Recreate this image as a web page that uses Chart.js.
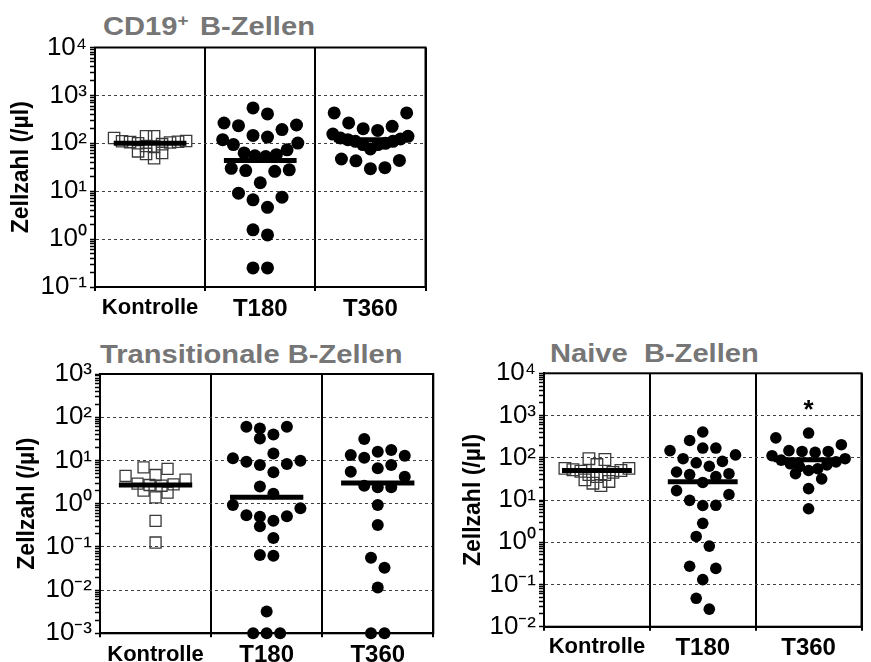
<!DOCTYPE html>
<html>
<head>
<meta charset="utf-8">
<script src="https://cdn.jsdelivr.net/npm/chart.js@4.4.1/dist/chart.umd.min.js"></script>
<style>
  html, body { margin: 0; padding: 0; background: #fff; }
  body { width: 871px; height: 662px; position: relative; overflow: hidden;
         font-family: "Liberation Sans", Arial, sans-serif; }
  canvas { position: absolute; }
  .ttl { position: absolute; font-weight: bold; font-size: 26px; line-height: 26px;
         color: #767676; white-space: pre; transform: scaleX(1.12); transform-origin: 0 0; }
  .ttl sup { font-size: 17px; line-height: 0; vertical-align: 9px; margin-right: 3px; }
</style>
</head>
<body>
<div class="ttl" style="left:103px; top:13px">CD19<sup>+</sup> B-Zellen</div>
<div class="ttl" style="left:100px; top:341px">Transitionale B-Zellen</div>
<div class="ttl" style="left:550px; top:340px">Naive  B-Zellen</div>

<canvas id="cd19" width="440" height="322" style="left:0; top:0"></canvas>
<canvas id="trans" width="445" height="332" style="left:0; top:330px"></canvas>
<canvas id="naive" width="421" height="332" style="left:450px; top:330px"></canvas>

<script>
// Groups on the x axis
const groups = ['Kontrolle', 'T180', 'T360'];
const yTitle = 'Zellzahl (/µl)';

// CD19+ B cells (cells per µl)
const cd19Kontrolle = [140, 140, 129, 112, 110, 108, 106, 104, 100, 96, 88, 86, 68, 63, 60, 49];
const cd19T180 = [547, 410, 265, 241, 233, 193, 146, 135, 119, 101, 94, 73, 63, 58, 55, 53,
                  30, 28, 27, 26, 15, 9.1, 7.5, 6.6, 4.6, 1.56, 1.22, 0.25, 0.25];
const cd19T360 = [431, 431, 266, 226, 202, 186, 156, 140, 129, 123, 119, 110, 110, 100, 94, 94,
                  76, 47, 44, 43, 31, 29.5];
const cd19Median = [100, 44, 119];
const cd19Decades = [-1, 0, 1, 2, 3, 4];

// Transitional B cells
const transKontrolle = [6.9, 6.4, 4.6, 4.4, 3.6, 2.9, 2.8, 2.7, 2.6, 2.0, 1.8, 1.4, 0.40, 0.126];
const transT180 = [60, 60, 55, 40, 32, 14.5, 11.3, 9.8, 9.3, 8.3, 7.8, 5.3, 2.5, 1.7, 0.93, 0.78,
                   0.54, 0.51, 0.50, 0.40, 0.30, 0.16, 0.065, 0.062, 0.0032, 0.001, 0.001, 0.001];
const transT360 = [31.5, 17.4, 15.8, 13.4, 12.8, 11.5, 7.8, 6.6, 5.5, 4.2, 2.6, 2.4, 2.4, 0.93,
                   0.32, 0.056, 0.033, 0.0115, 0.001, 0.001];
const transMedian = [2.7, 1.4, 3.0];
const transDecades = [-3, -2, -1, 0, 1, 2, 3];

// Naive B cells
const naiveKontrolle = [95, 91, 69, 56, 56, 52, 50, 48, 45, 40, 40, 36, 30, 27.5, 25, 22];
const naiveT180 = [407, 257, 170, 170, 148, 117, 95, 82, 76, 63, 46, 42, 40, 36, 26, 16.7, 13.5,
                   9.8, 7.5, 7.4, 2.8, 1.37, 0.81, 0.27, 0.24, 0.13, 0.047, 0.026];
const naiveT360 = [385, 295, 204, 148, 141, 141, 134, 112, 95, 88, 80, 72, 68, 62, 55, 50, 42,
                   31.6, 18.6, 6.2];
const naiveMedian = [50, 27, 90];
const naiveDecades = [-2, -1, 0, 1, 2, 3, 4];
const naiveMarks = ['', '', '*'];

// ---------------------------------------------------------------------------
const FONT = '"Liberation Sans", Arial, sans-serif';
const SUP = { '0': '⁰', '1': '¹', '2': '²', '3': '³', '4': '⁴', '5': '⁵', '6': '⁶',
              '7': '⁷', '8': '⁸', '9': '⁹', '-': '⁻' };
const powerLabel = e => '10' + String(e).split('').map(c => SUP[c]).join('');
const isDecade = v => Math.abs(Math.log10(v) - Math.round(Math.log10(v))) < 1e-9;

// Prism-style column scatter: values are grouped into horizontal rows,
// the lowest value of a row sits in the middle, the others alternate right/left.
function swarm(values, xs, ys, center, spacing, rowHeight, maxWidth) {
  const unit = xs.getPixelForValue(1) - xs.getPixelForValue(0);
  const pts = values.map(v => ({ v, py: ys.getPixelForValue(v) }))
                    .sort((a, b) => b.py - a.py);
  const rows = [];
  let row = null;
  for (const p of pts) {
    if (!row || row.start - p.py > rowHeight) { row = { start: p.py, items: [] }; rows.push(row); }
    row.items.push(p);
  }
  const out = [];
  for (const r of rows) {
    const n = r.items.length;
    const step = n > 1 ? Math.min(spacing, maxWidth / (n - 1)) : spacing;
    r.items.forEach((p, k) => {
      let slot;
      if (n % 2 === 1) slot = k === 0 ? 0 : (k % 2 === 1 ? 1 : -1) * Math.ceil(k / 2);
      else slot = (k % 2 === 0 ? 1 : -1) * (Math.floor(k / 2) + 0.5);
      out.push({ x: center + slot * step / unit, y: p.v });
    });
  }
  return out;
}

const framePlugin = {
  id: 'frame',
  beforeDatasetsDraw(chart) {
    const { ctx, chartArea: a } = chart;
    ctx.save();
    ctx.strokeStyle = '#000';
    ctx.lineWidth = 2;
    ctx.strokeRect(a.left, a.top, a.right - a.left, a.bottom - a.top);
    ctx.restore();
  }
};

function makePanel(id, series, medians, decades, g, marks) {
  const ctx = document.getElementById(id).getContext('2d');
  const datasets = series.map((vals, i) => ({
    type: 'scatter',
    data: vals.map(v => ({ x: i, y: v })),
    pointStyle: i === 0 ? 'rect' : 'circle',
    pointRadius: i === 0 ? g.square : g.dot,
    backgroundColor: i === 0 ? 'rgba(0,0,0,0)' : '#000',
    borderColor: i === 0 ? '#3a3a3a' : '#000',
    borderWidth: i === 0 ? 1.3 : 0,
    clip: false,
    order: 1
  }));
  medians.forEach((m, i) => datasets.push({
    type: 'line',
    data: [{ x: i - g.lineHalf, y: m }, { x: i + g.lineHalf, y: m }],
    borderColor: '#000',
    borderWidth: 5,
    borderCapStyle: 'butt',
    pointRadius: 0,
    clip: false,
    order: 0
  }));

  const marksPlugin = {
    id: 'marks',
    afterDatasetsDraw(chart) {
      if (!marks) return;
      const { ctx } = chart;
      const xs = chart.scales.x, ys = chart.scales.y;
      ctx.save();
      ctx.fillStyle = '#000';
      ctx.font = 'bold 26px ' + FONT;
      ctx.textAlign = 'center';
      ctx.textBaseline = 'middle';
      marks.forEach((t, i) => {
        if (!t) return;
        const top = Math.max(...series[i]);
        ctx.fillText(t, xs.getPixelForValue(i), ys.getPixelForValue(top) - 22);
      });
      ctx.restore();
    }
  };

  const chart = new Chart(ctx, {
    type: 'scatter',
    data: { datasets },
    options: {
      responsive: false,
      animation: false,
      events: [],
      layout: { padding: { left: 0, top: g.padTop, right: g.padRight, bottom: 0 } },
      plugins: { legend: { display: false }, tooltip: { enabled: false } },
      scales: {
        x: {
          type: 'linear',
          min: -0.5, max: 2.5,
          afterBuildTicks: s => { s.ticks = groups.map((_, i) => ({ value: i })); },
          afterFit: s => { s.height = g.xHeight; },
          ticks: {
            autoSkip: false, maxRotation: 0, padding: g.xPad, color: '#000',
            callback: v => groups[Math.round(v)],
            font: c => ({ family: FONT, weight: 'bold', size: c.index === 0 ? 22 : 24 })
          },
          grid: { offset: true, color: '#000', lineWidth: 2, tickLength: 4, drawTicks: true },
          border: { display: true, color: '#000', width: 2 }
        },
        y: {
          type: 'logarithmic',
          min: Math.pow(10, decades[0]),
          max: Math.pow(10, decades[decades.length - 1]),
          afterBuildTicks: s => {
            const t = [];
            decades.forEach((e, k) => {
              t.push({ value: Math.pow(10, e), major: true });
              if (k < decades.length - 1)
                for (let m = 2; m <= 9; m++) t.push({ value: m * Math.pow(10, e), major: false });
            });
            s.ticks = t;
          },
          afterFit: s => { s.width = g.yWidth; },
          ticks: {
            autoSkip: false, padding: 3, color: '#000',
            font: { family: FONT, size: 26 },
            callback: v => isDecade(v) ? powerLabel(Math.round(Math.log10(v))) : ''
          },
          grid: {
            color: c => (c.tick && isDecade(c.tick.value)) ? '#3f3f3f' : 'rgba(0,0,0,0)',
            lineWidth: 1, tickColor: '#000', tickWidth: 1.5, tickLength: 5, drawTicks: true
          },
          border: { display: true, color: '#000', width: 2, dash: [3, 3] },
          title: {
            display: true, text: yTitle, color: '#000',
            font: { family: FONT, weight: 'bold', size: 23 },
            padding: { top: g.titlePad, bottom: 0 }
          }
        }
      }
    },
    plugins: [framePlugin, marksPlugin]
  });

  // lay the points out side by side once the scales are known
  const xs = chart.scales.x, ys = chart.scales.y;
  const colWidth = xs.getPixelForValue(1) - xs.getPixelForValue(0);
  series.forEach((vals, i) => {
    const r = i === 0 ? g.square : g.dot;
    const spacing = i === 0 ? g.squareStep : 2 * r + 1.5;
    const rowH = i === 0 ? g.squareRow : g.dotRow;
    chart.data.datasets[i].data = swarm(vals, xs, ys, i, spacing, rowH, 0.8 * colWidth - 2 * r);
  });
  chart.update('none');
  return chart;
}

makePanel('cd19', [cd19Kontrolle, cd19T180, cd19T360], cd19Median, cd19Decades, {
  padTop: 47.5, padRight: 14.5, yWidth: 95, xHeight: 35, xPad: 4, titlePad: 8,
  dot: 6.5, square: 8, squareStep: 8, squareRow: 10, dotRow: 18, lineHalf: 0.33
});
makePanel('trans', [transKontrolle, transT180, transT360], transMedian, transDecades, {
  padTop: 44, padRight: 11.7, yWidth: 100, xHeight: 28.7, xPad: 4, titlePad: 14,
  dot: 6, square: 7.8, squareStep: 12, squareRow: 10, dotRow: 16, lineHalf: 0.33
}, null);
makePanel('naive', [naiveKontrolle, naiveT180, naiveT360], naiveMedian, naiveDecades, {
  padTop: 43.3, padRight: 1, yWidth: 94, xHeight: 35.3, xPad: 3, titlePad: 10,
  dot: 5.8, square: 8.2, squareStep: 8, squareRow: 9, dotRow: 16, lineHalf: 0.33
}, naiveMarks);
</script>
</body>
</html>
